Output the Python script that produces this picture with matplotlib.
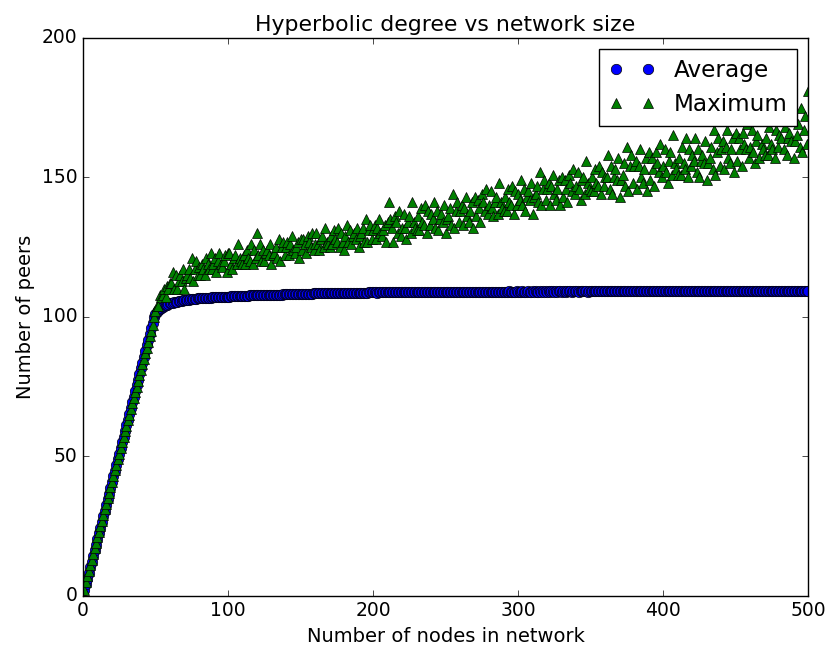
import matplotlib
matplotlib.use("Agg")
import matplotlib.pyplot as plt

plt.style.use("classic")

# network sizes 1..500
nodes = list(range(1, 501))

# average hyperbolic degree (rows of 10 nodes)
average = [
    2.0, 4.1, 6.1, 8.2, 10.2, 12.2, 14.3, 16.3, 18.4, 20.4,
    22.4, 24.5, 26.5, 28.6, 30.6, 32.6, 34.7, 36.7, 38.8, 40.8,
    42.8, 44.9, 46.9, 49.0, 51.0, 53.0, 55.1, 57.1, 59.2, 61.2,
    63.2, 65.3, 67.3, 69.4, 71.4, 73.4, 75.5, 77.5, 79.6, 81.6,
    83.6, 85.7, 87.7, 89.8, 91.8, 93.8, 95.9, 97.9, 99.8, 101.0,
    101.8, 102.4, 102.9, 103.3, 103.6, 103.9, 104.2, 104.4, 104.6, 104.8,
    105.0, 105.1, 105.3, 105.4, 105.5, 105.6, 105.7, 105.8, 105.9, 106.0,
    106.0, 106.1, 106.2, 106.3, 106.3, 106.4, 106.4, 106.5, 106.6, 106.6,
    106.7, 106.7, 106.7, 106.8, 106.8, 106.9, 106.9, 106.9, 107.0, 107.0,
    107.0, 107.1, 107.1, 107.1, 107.2, 107.2, 107.2, 107.3, 107.3, 107.3,
    107.3, 107.4, 107.4, 107.4, 107.4, 107.5, 107.5, 107.5, 107.5, 107.6,
    107.6, 107.6, 107.6, 107.6, 107.7, 107.7, 107.7, 107.7, 107.7, 107.8,
    107.8, 107.8, 107.8, 107.8, 107.8, 107.9, 107.9, 107.9, 107.9, 107.9,
    107.9, 108.0, 108.0, 108.0, 108.0, 108.0, 108.0, 108.1, 108.1, 108.1,
    108.1, 108.1, 108.1, 108.1, 108.2, 108.2, 108.2, 108.2, 108.2, 108.2,
    108.2, 108.3, 108.3, 108.3, 108.3, 108.3, 108.3, 108.3, 108.4, 108.4,
    108.4, 108.4, 108.4, 108.4, 108.4, 108.4, 108.5, 108.5, 108.5, 108.5,
    108.5, 108.5, 108.5, 108.5, 108.5, 108.6, 108.6, 108.6, 108.6, 108.6,
    108.6, 108.6, 108.6, 108.6, 108.6, 108.7, 108.7, 108.7, 108.7, 108.7,
    108.7, 108.7, 108.7, 108.7, 108.7, 108.7, 108.8, 108.8, 108.8, 108.8,
    108.8, 108.8, 108.7, 108.8, 108.8, 108.8, 108.9, 108.8, 108.8, 108.8,
    108.8, 108.9, 108.8, 108.8, 108.9, 108.8, 108.9, 108.8, 108.9, 108.9,
    108.8, 108.9, 108.9, 108.8, 108.9, 108.9, 108.9, 108.8, 108.9, 108.9,
    108.9, 108.9, 108.8, 108.9, 108.9, 108.9, 108.9, 108.9, 108.8, 108.9,
    108.9, 108.9, 108.9, 108.9, 108.9, 109.0, 108.9, 108.9, 108.9, 108.9,
    108.9, 108.9, 109.0, 108.9, 108.9, 108.9, 109.0, 108.9, 108.9, 109.0,
    108.9, 109.0, 108.9, 109.0, 108.9, 109.0, 109.0, 108.9, 109.0, 108.9,
    109.0, 109.0, 108.9, 109.0, 109.0, 109.0, 108.9, 109.0, 109.0, 109.0,
    109.0, 108.9, 109.0, 109.0, 109.0, 109.0, 109.0, 109.0, 108.9, 109.0,
    109.0, 109.0, 109.0, 109.1, 109.0, 109.0, 109.0, 109.0, 109.1, 109.0,
    109.0, 109.0, 109.1, 109.0, 109.0, 109.0, 109.1, 109.0, 109.0, 109.1,
    109.0, 109.1, 109.0, 109.0, 109.1, 109.0, 109.1, 109.0, 109.1, 109.0,
    109.1, 109.0, 109.1, 109.1, 109.0, 109.1, 109.0, 109.1, 109.1, 109.0,
    109.1, 109.1, 109.0, 109.1, 109.1, 109.1, 109.0, 109.1, 109.1, 109.1,
    109.1, 109.0, 109.1, 109.1, 109.1, 109.1, 109.1, 109.0, 109.1, 109.1,
    109.1, 109.1, 109.1, 109.1, 109.2, 109.1, 109.1, 109.1, 109.1, 109.1,
    109.1, 109.2, 109.1, 109.1, 109.1, 109.1, 109.2, 109.1, 109.1, 109.1,
    109.2, 109.1, 109.1, 109.2, 109.1, 109.1, 109.1, 109.2, 109.1, 109.2,
    109.1, 109.1, 109.2, 109.1, 109.2, 109.1, 109.2, 109.1, 109.1, 109.2,
    109.2, 109.1, 109.2, 109.1, 109.2, 109.2, 109.1, 109.2, 109.2, 109.1,
    109.2, 109.2, 109.1, 109.2, 109.2, 109.2, 109.1, 109.2, 109.2, 109.2,
    109.2, 109.2, 109.2, 109.1, 109.2, 109.2, 109.2, 109.2, 109.2, 109.2,
    109.2, 109.2, 109.2, 109.2, 109.3, 109.2, 109.2, 109.2, 109.2, 109.2,
    109.2, 109.3, 109.2, 109.2, 109.2, 109.3, 109.2, 109.2, 109.3, 109.2,
    109.2, 109.3, 109.2, 109.3, 109.2, 109.2, 109.3, 109.2, 109.3, 109.2,
    109.3, 109.2, 109.3, 109.2, 109.3, 109.3, 109.2, 109.3, 109.2, 109.3,
    109.3, 109.2, 109.3, 109.3, 109.2, 109.3, 109.3, 109.2, 109.3, 109.3,
    109.3, 109.3, 109.2, 109.3, 109.3, 109.3, 109.3, 109.3, 109.2, 109.3,
    109.3, 109.3, 109.3, 109.3, 109.3, 109.3, 109.3, 109.3, 109.3, 109.3,
    109.3, 109.3, 109.4, 109.3, 109.3, 109.3, 109.3, 109.4, 109.3, 109.3,
]

# maximum hyperbolic degree (rows of 10 nodes)
maximum = [
    2, 5, 7, 9, 11, 13, 15, 17, 19, 21,
    23, 25, 27, 29, 31, 33, 35, 37, 39, 41,
    43, 45, 47, 49, 51, 53, 55, 57, 59, 61,
    63, 65, 67, 69, 71, 73, 75, 77, 79, 81,
    83, 85, 87, 89, 91, 93, 95, 97, 100, 102,
    104, 104, 108, 107, 108, 110, 107, 111, 110, 112,
    112, 116, 110, 115, 110, 113, 115, 113, 117, 110,
    114, 115, 117, 114, 121, 113, 117, 120, 115, 118,
    115, 119, 117, 115, 121, 119, 117, 123, 117, 119,
    121, 116, 120, 123, 119, 118, 120, 122, 116, 123,
    123, 119, 117, 121, 122, 119, 126, 121, 120, 119,
    122, 119, 124, 121, 120, 126, 119, 124, 121, 130,
    122, 126, 120, 124, 120, 123, 124, 122, 126, 119,
    122, 123, 125, 121, 128, 120, 125, 127, 122, 125,
    127, 122, 126, 129, 124, 123, 125, 127, 121, 128,
    124, 128, 126, 123, 129, 127, 125, 130, 124, 126,
    130, 126, 124, 128, 129, 125, 132, 127, 126, 125,
    129, 126, 131, 128, 127, 132, 125, 130, 127, 124,
    129, 133, 127, 131, 126, 129, 130, 128, 132, 125,
    129, 130, 132, 127, 135, 127, 131, 133, 128, 131,
    133, 128, 132, 135, 130, 129, 131, 133, 127, 134,
    141, 135, 132, 127, 136, 134, 130, 138, 129, 132,
    137, 132, 128, 134, 136, 130, 141, 134, 132, 131,
    136, 131, 139, 134, 133, 140, 130, 138, 133, 137,
    135, 141, 132, 138, 131, 135, 137, 134, 140, 130,
    135, 136, 139, 133, 144, 132, 138, 141, 134, 138,
    140, 133, 139, 143, 136, 134, 138, 141, 132, 143,
    136, 142, 139, 134, 144, 141, 138, 146, 137, 140,
    145, 139, 136, 141, 143, 137, 148, 141, 139, 138,
    143, 138, 146, 141, 140, 147, 137, 145, 140, 144,
    142, 149, 140, 146, 138, 143, 145, 142, 148, 137,
    143, 144, 147, 141, 152, 140, 146, 149, 142, 146,
    148, 140, 147, 151, 144, 142, 146, 149, 140, 150,
    143, 149, 146, 141, 151, 148, 145, 153, 144, 147,
    152, 146, 142, 149, 150, 144, 156, 148, 146, 145,
    150, 145, 153, 148, 147, 154, 144, 152, 147, 150,
    150, 158, 146, 154, 144, 150, 153, 149, 157, 143,
    149, 151, 155, 147, 161, 145, 154, 158, 148, 154,
    156, 146, 154, 160, 150, 148, 153, 157, 145, 159,
    149, 157, 153, 147, 159, 155, 152, 162, 150, 154,
    160, 152, 148, 156, 159, 151, 165, 155, 153, 151,
    157, 151, 161, 155, 153, 164, 150, 160, 154, 158,
    156, 164, 152, 160, 150, 156, 158, 155, 163, 149,
    155, 157, 161, 153, 167, 151, 159, 164, 154, 160,
    163, 153, 161, 167, 157, 155, 160, 164, 152, 166,
    156, 164, 160, 154, 166, 162, 160, 169, 157, 161,
    167, 159, 155, 163, 165, 157, 172, 162, 160, 158,
    164, 158, 168, 162, 160, 171, 157, 167, 161, 165,
    164, 172, 160, 168, 158, 164, 166, 163, 171, 157,
    163, 165, 169, 161, 175, 159, 167, 172, 162, 181,
]

fig = plt.figure(figsize=(8.29, 6.52), dpi=100, facecolor="white")
ax = fig.add_axes([0.100, 0.086, 0.875, 0.856])

ax.plot(nodes, average, "bo", markersize=7.5, label="Average")
ax.plot(nodes, maximum, "g^", markersize=7.5, label="Maximum")

ax.set_xlim(0, 500)
ax.set_ylim(0, 200)
ax.tick_params(labelsize=13.5)
ax.set_title("Hyperbolic degree vs network size", fontsize=15.8)
ax.set_xlabel("Number of nodes in network", fontsize=14)
ax.set_ylabel("Number of peers", fontsize=14)
ax.legend(loc="upper right", fontsize=16.7)

fig.savefig("out.png", dpi=100, facecolor="white")
